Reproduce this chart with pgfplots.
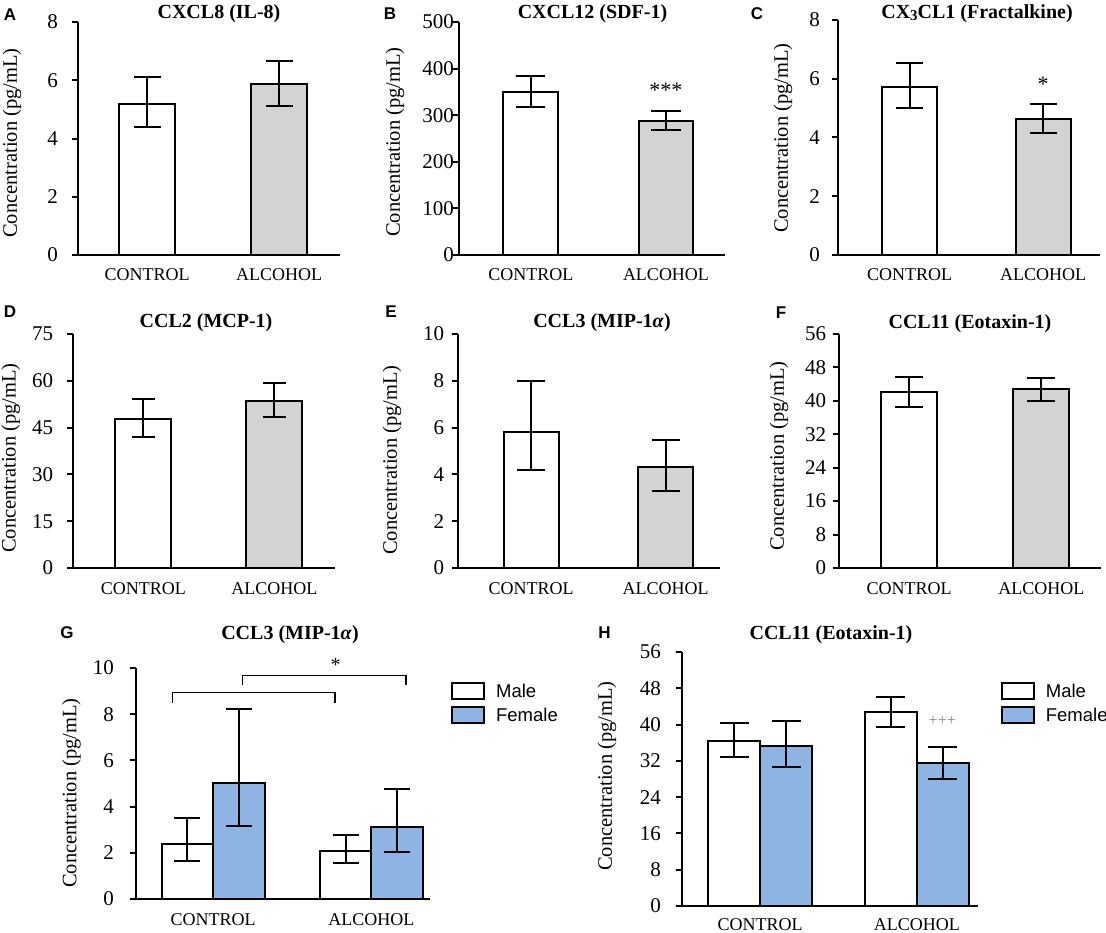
\documentclass[border=0pt]{standalone}
\usepackage{fontspec}
\setmainfont{Liberation Serif}
\newfontfamily\arial{Liberation Sans}
\usepackage{pgfplots}
\pgfplotsset{compat=1.18}
\definecolor{barGray}{RGB}{211,211,211}
\definecolor{barBlue}{RGB}{142,180,227}
\newcommand{\fs}[1]{\fontsize{#1}{#1}\selectfont}

\pgfplotsset{
  panel/.style={
    scale only axis, anchor=south west, clip=false,
    axis x line=bottom, axis y line=left,
    axis line style={-, line width=2pt, black},
    ymin=0,
    xtick={0,1}, xticklabels={CONTROL,ALCOHOL},
    x tick style={draw=none},
    y tick style={line width=2pt, black},
    tick align=outside, major tick length=6pt,
    /pgf/number format/assume math mode=true,
    yticklabel style={font=\fs{21}, anchor=east, inner sep=0pt},
    xticklabel style={font=\fs{18}, anchor=base, inner sep=0pt, yshift=-20pt},
    ybar, bar shift=0pt,
  },
  cbar/.style 2 args={draw=black, line width=2pt, fill=#1,
    error bars/.cd, y dir=both, y explicit,
    error bar style={line width=2pt, black},
    error mark options={rotate=90, line width=2pt, black, mark size=#2}},
  legimg/.style={legend image code/.code={
    \draw[draw=black, line width=2pt, fill=#1] (0pt,-8pt) rectangle (32pt,8pt);
    \path (44pt,0pt);}},
  sexlegend/.style={legend style={at={(axis description cs:#1)}, anchor=north west,
    draw=none, fill=none, inner sep=0pt, row sep=6pt,
    nodes={inner sep=0pt}, font=\arial\fs{18.5}}, legend cell align=left},
}

\begin{document}
\begin{tikzpicture}
\path[use as bounding box] (0pt,0pt) rectangle (1106pt,-933pt);

% A
\begin{axis}[panel, at={(78pt,-255pt)}, width=262pt, height=233pt,
  xmin=-0.523, xmax=1.462, ymax=8, ytick={0,2,...,8}, bar width=0.424,
  yticklabel style={xshift=-14pt}]
\addplot[cbar={white}{13.5pt}] coordinates {(0,5.2) += (0,0.9) -= (0,0.8)};
\addplot[cbar={barGray}{13.5pt}] coordinates {(1,5.87) += (0,0.78) -= (0,0.75)};
\end{axis}

% B
\begin{axis}[panel, at={(459pt,-255pt)}, width=266pt, height=233pt,
  xmin=-0.533, xmax=1.437, ymax=500, ytick={0,100,...,500}, bar width=0.407,
  yticklabel style={xshift=1pt}]
\addplot[cbar={white}{14.5pt}] coordinates {(0,350) += (0,34) -= (0,32)};
\addplot[cbar={barGray}{14.5pt}] coordinates {(1,288) += (0,21) -= (0,20)};
\node[font=\fs{22}] at (axis cs:1,354) {***};
\end{axis}

% C
\begin{axis}[panel, at={(838pt,-255pt)}, width=262pt, height=235pt,
  xmin=-0.536, xmax=1.427, ymax=8, ytick={0,2,...,8}, bar width=0.412,
  yticklabel style={xshift=-12pt}]
\addplot[cbar={white}{13.5pt}] coordinates {(0,5.73) += (0,0.82) -= (0,0.73)};
\addplot[cbar={barGray}{13.5pt}] coordinates {(1,4.63) += (0,0.5) -= (0,0.46)};
\node[font=\fs{22}] at (axis cs:1,5.82) {*};
\end{axis}

% D
\begin{axis}[panel, at={(73pt,-568pt)}, width=262pt, height=234pt,
  xmin=-0.538, xmax=1.464, ymax=75, ytick={0,15,...,75}, bar width=0.428,
  yticklabel style={xshift=-13.6pt}]
\addplot[cbar={white}{11.5pt}] coordinates {(0,47.8) += (0,6.4) -= (0,5.8)};
\addplot[cbar={barGray}{11.5pt}] coordinates {(1,53.5) += (0,5.8) -= (0,5.1)};
\end{axis}

% E
\begin{axis}[panel, at={(458pt,-568pt)}, width=262pt, height=234pt,
  xmin=-0.543, xmax=1.405, ymax=10, ytick={0,2,...,10}, bar width=0.409,
  yticklabel style={xshift=-7.6pt}]
\addplot[cbar={white}{14pt}] coordinates {(0,5.8) += (0,2.18) -= (0,1.63)};
\addplot[cbar={barGray}{14pt}] coordinates {(1,4.3) += (0,1.15) -= (0,1.0)};
\end{axis}

% F
\begin{axis}[panel, at={(838.6pt,-568pt)}, width=262.4pt, height=234pt,
  xmin=-0.532, xmax=1.450, ymax=56, ytick={0,8,...,56}, bar width=0.423,
  yticklabel style={xshift=-6.2pt}]
\addplot[cbar={white}{14pt}] coordinates {(0,42.1) += (0,3.6) -= (0,3.6)};
\addplot[cbar={barGray}{14pt}] coordinates {(1,42.8) += (0,2.7) -= (0,2.8)};
\end{axis}

% G
\begin{axis}[panel, at={(135.7pt,-899pt)}, width=294.7pt, height=231pt,
  xmin=-0.490, xmax=1.373, ymax=10, ytick={0,2,...,10}, bar width=0.326,
  yticklabel style={xshift=-15.7pt}, sexlegend={1.069,0.939}]
\addplot[forget plot, cbar={white}{13pt}] coordinates {
  (-0.163,2.40) += (0,1.10) -= (0,0.75)
  (0.837,2.08) += (0,0.69) -= (0,0.52)};
\addplot[forget plot, cbar={barBlue}{13pt}] coordinates {
  (0.163,5.02) += (0,3.20) -= (0,1.86)
  (1.163,3.12) += (0,1.64) -= (0,1.08)};
\addlegendimage{legimg=white}\addlegendentry{Male}
\addlegendimage{legimg=barBlue}\addlegendentry{Female}
\draw[line width=1.1pt] (axis cs:-0.26,8.5) -- (axis cs:-0.26,8.95)
  -- (axis cs:0.77,8.95) -- (axis cs:0.77,8.5);
\draw[line width=1.1pt] (axis cs:0.183,9.25) -- (axis cs:0.183,9.68)
  -- (axis cs:1.219,9.68) -- (axis cs:1.219,9.25);
\node[font=\fs{20}] at (axis cs:0.774,10.13) {*};
\end{axis}

% H
\begin{axis}[panel, at={(682pt,-906pt)}, width=296pt, height=254pt,
  xmin=-0.499, xmax=1.390, ymax=56, ytick={0,8,...,56}, bar width=0.332,
  yticklabel style={xshift=-15pt}, xticklabel style={yshift=2pt},
  sexlegend={1.076,0.882}]
\addplot[forget plot, cbar={white}{14.5pt}] coordinates {
  (-0.166,36.4) += (0,3.9) -= (0,3.5)
  (0.834,42.8) += (0,3.3) -= (0,3.3)};
\addplot[forget plot, cbar={barBlue}{14.5pt}] coordinates {
  (0.166,35.3) += (0,5.5) -= (0,4.7)
  (1.166,31.5) += (0,3.6) -= (0,3.5)};
\addlegendimage{legimg=white}\addlegendentry{Male}
\addlegendimage{legimg=barBlue}\addlegendentry{Female}
\node[font=\fs{16}, text=gray] at (axis cs:1.162,40.8) {+++};
\end{axis}

% panel letters
\begin{scope}[every node/.style={font=\arial\bfseries\fs{17}}]
\node at (10pt,-14.5pt) {A};
\node at (390pt,-14pt) {B};
\node at (757pt,-14pt) {C};
\node at (10pt,-312pt) {D};
\node at (391pt,-312pt) {E};
\node at (781pt,-313pt) {F};
\node at (67pt,-633pt) {G};
\node at (604.6pt,-633pt) {H};
\end{scope}

% titles
\begin{scope}[every node/.style={font=\bfseries\fs{20}}]
\node at (219pt,-14pt) {CXCL8 (IL-8)};
\node at (592.5pt,-14pt) {CXCL12 (SDF-1)};
\node at (977pt,-14pt) {CX{\fs{15}\raisebox{-1.5pt}{3}}CL1 (Fractalkine)};
\node at (206pt,-323pt) {CCL2 (MCP-1)};
\node at (602pt,-323pt) {CCL3 (MIP-1\textit{α})};
\node at (970pt,-324pt) {CCL11 (Eotaxin-1)};
\node at (290pt,-635pt) {CCL3 (MIP-1\textit{α})};
\node at (831pt,-635pt) {CCL11 (Eotaxin-1)};
\end{scope}

% y labels
\begin{scope}[every node/.style={rotate=90, font=\fs{20.5}}]
\node at (12pt,-143pt) {Concentration (pg/mL)};
\node at (395pt,-142pt) {Concentration (pg/mL)};
\node at (783pt,-138pt) {Concentration (pg/mL)};
\node at (10.7pt,-458pt) {Concentration (pg/mL)};
\node at (392pt,-460pt) {Concentration (pg/mL)};
\node at (779pt,-456pt) {Concentration (pg/mL)};
\node at (71.4pt,-793pt) {Concentration (pg/mL)};
\node at (607pt,-776pt) {Concentration (pg/mL)};
\end{scope}
\end{tikzpicture}
\end{document}
